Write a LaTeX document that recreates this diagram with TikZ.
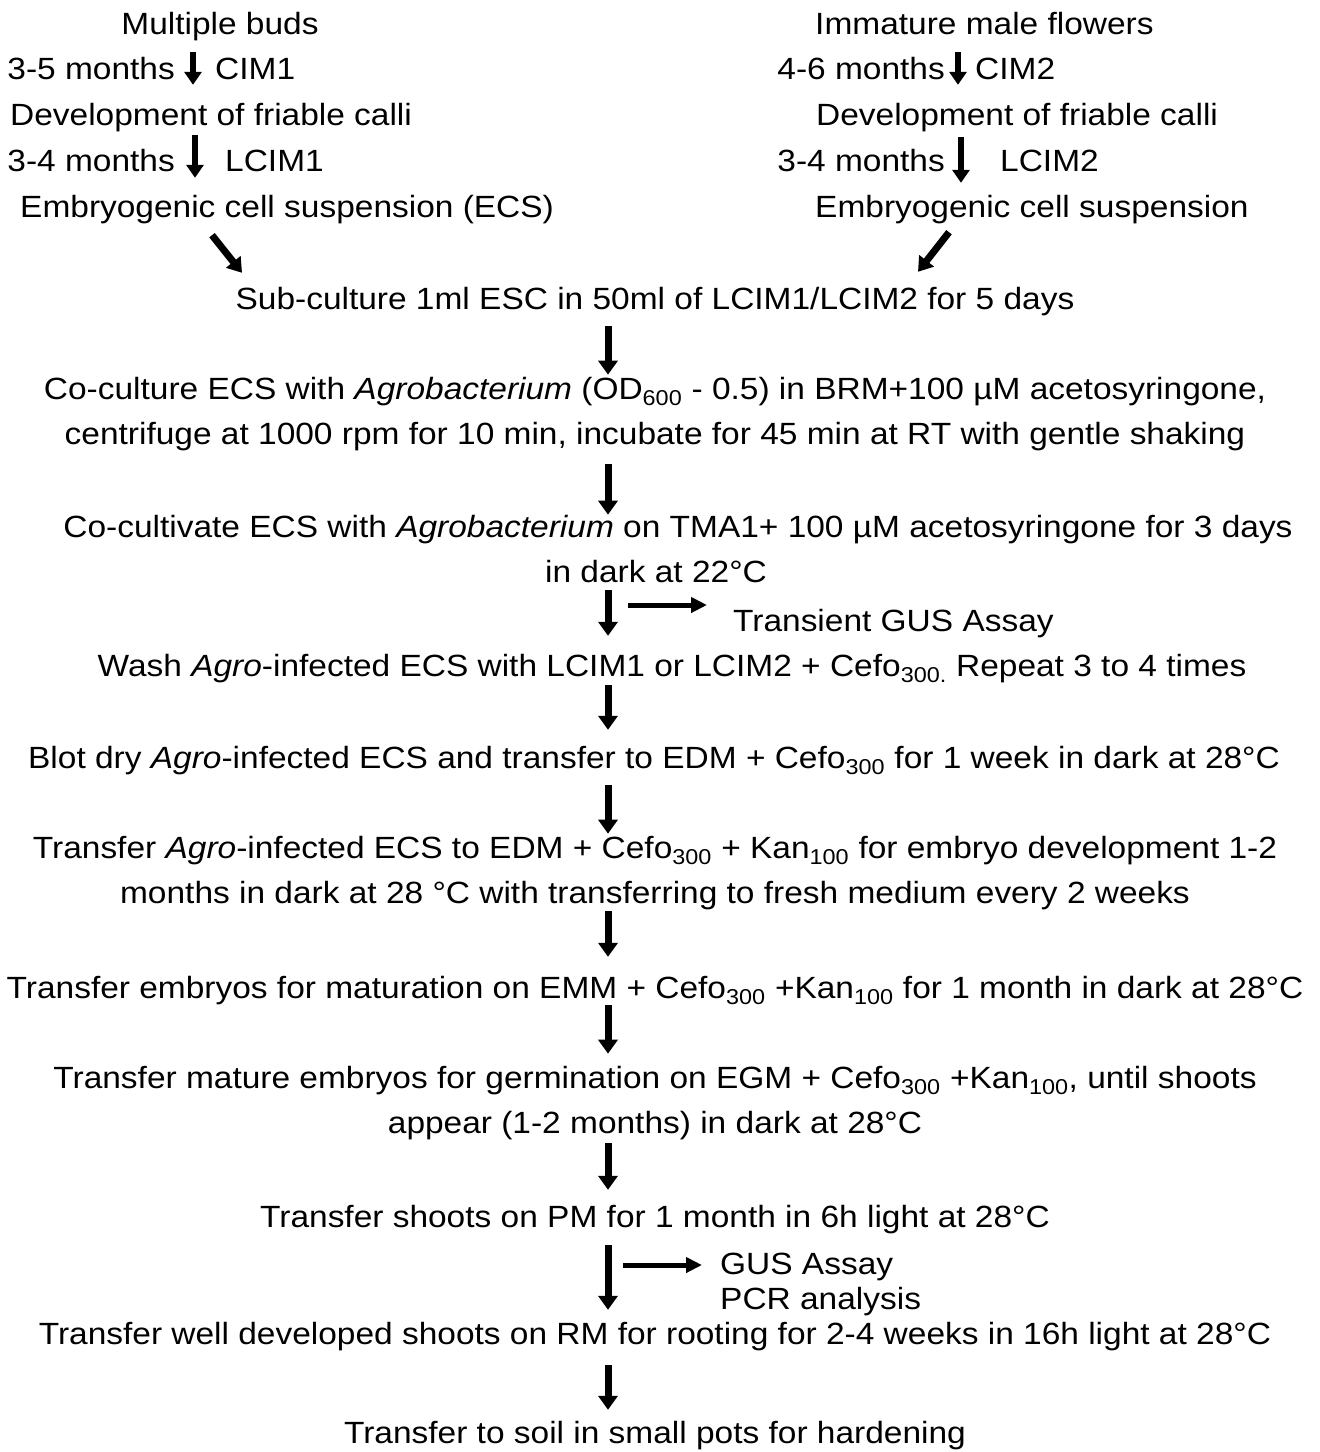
\documentclass[tikz,border=0pt]{standalone}
\usepackage{fontspec}
\setmainfont{Liberation Sans}[FakeStretch=1.09]
\usetikzlibrary{arrows.meta,positioning}
\newcommand{\flowstrut}{\rule[-7pt]{0pt}{36pt}}
\tikzset{
  every picture/.style={font=\fontsize{30.7}{45}\selectfont},
  flow step/.style={inner sep=0pt, align=center,
    execute at begin node=\flowstrut, execute at end node=\flowstrut},
  flow note/.style={flow step, anchor=west},
  flow arrow/.style={-{Triangle[length=14pt,width=19pt]}, line width=7pt},
  start arrow/.style={-{Triangle[length=13pt,width=17pt]}, line width=6pt},
  merge arrow/.style={-{Triangle[length=14pt,width=18pt]}, line width=7pt},
  side arrow/.style={-{Triangle[length=16pt,width=15pt]}, line width=5pt}
}

\begin{document}
\begin{tikzpicture}[x=1pt, y=-1pt]
  \path[use as bounding box, fill=white] (0,0) rectangle (1320,1452);

  % left branch: multiple buds
  \node[flow step] (budsL) at (220,23) {Multiple buds};
  \node[flow note] (calliL) at (10,114) {Development of friable calli};
  \node[flow note] (ecsL) at (20,206) {Embryogenic cell suspension (ECS)};
  \coordinate (a1) at (193,68);
  \coordinate (a2) at (195,160);
  \node[flow step, left=18pt of a1] (timeL1) {3-5 months};
  \node[flow step, right=22pt of a1] (mediumL1) {CIM1};
  \node[flow step, left=20pt of a2] (timeL2) {3-4 months};
  \node[flow step, right=30pt of a2] (mediumL2) {LCIM1};
  \draw[start arrow, shorten <=11pt, shorten >=11pt] (budsL.south -| a1) -- (calliL.north -| a1);
  \draw[start arrow, shorten <=3pt, shorten >=10pt] (calliL.south -| a2) -- (ecsL.north -| a2);

  % right branch: male flowers
  \node[flow note] (flowersR) at (815,23) {Immature male flowers};
  \node[flow note] (calliR) at (816,114) {Development of friable calli};
  \node[flow note] (ecsR) at (815,206) {Embryogenic cell suspension};
  \coordinate (a3) at (958,68);
  \coordinate (a4) at (961,160);
  \node[flow step, left=13pt of a3] (timeR1) {4-6 months};
  \node[flow step, right=17pt of a3] (mediumR1) {CIM2};
  \node[flow step, left=16pt of a4] (timeR2) {3-4 months};
  \node[flow step, right=39pt of a4] (mediumR2) {LCIM2};
  \draw[start arrow, shorten <=11pt, shorten >=11pt] (flowersR.south -| a3) -- (calliR.north -| a3);
  \draw[start arrow, shorten <=5pt, shorten >=5pt] (calliR.south -| a4) -- (ecsR.north -| a4);

  % main chain
  \node[flow step] (sub) at (655,298) {Sub-culture 1ml ESC in 50ml of LCIM1/LCIM2 for 5 days};
  \node[flow step] (cocult) at (655,414) {Co-culture ECS with \textit{Agrobacterium} (OD\textsubscript{600} - 0.5) in BRM+100 µM acetosyringone,\\
    centrifuge at 1000 rpm for 10 min, incubate for 45 min at RT with gentle shaking};
  \node[flow step] (cocultiv) at (656,552) {\hspace*{44pt}Co-cultivate ECS with \textit{Agrobacterium} on TMA1+ 100 µM acetosyringone for 3 days\\
    in dark at 22°C};
  \node[flow note] (tgus) at (733,620) {Transient GUS Assay};
  \node[flow step] (wash) at (672,665) {Wash \textit{Agro}-infected ECS with LCIM1 or LCIM2 + Cefo\textsubscript{300.} Repeat 3 to 4 times};
  \node[flow step] (blot) at (654,757) {Blot dry \textit{Agro}-infected ECS and transfer to EDM + Cefo\textsubscript{300} for 1 week in dark at 28°C};
  \node[flow step] (agro) at (655,873) {Transfer \textit{Agro}-infected ECS to EDM + Cefo\textsubscript{300} + Kan\textsubscript{100} for embryo development 1-2\\
    months in dark at 28 °C with transferring to fresh medium every 2 weeks};
  \node[flow step] (embryos) at (655,987) {Transfer embryos for maturation on EMM + Cefo\textsubscript{300} +Kan\textsubscript{100} for 1 month in dark at 28°C};
  \node[flow step] (mature) at (655,1103) {Transfer mature embryos for germination on EGM + Cefo\textsubscript{300} +Kan\textsubscript{100}, until shoots\\
    appear (1-2 months) in dark at 28°C};
  \node[flow step] (shoots) at (655,1216) {Transfer shoots on PM for 1 month in 6h light at 28°C};
  \node[flow note] (gus) at (720,1263) {GUS Assay};
  \node[flow note] (pcr) at (720,1298) {PCR analysis};
  \node[flow step] (well) at (655,1333) {Transfer well developed shoots on RM for rooting for 2-4 weeks in 16h light at 28°C};
  \node[flow step] (soil) at (655,1432) {Transfer to soil in small pots for hardening};

  % merging arrows
  \draw[merge arrow] ([xshift=192pt,yshift=-11pt]ecsL.south west) -- ([xshift=-413pt,yshift=7pt]sub.north);
  \draw[merge arrow] ([xshift=134pt,yshift=-8pt]ecsR.south west) -- ([xshift=263pt,yshift=8pt]sub.north);

  \coordinate (ax) at (608,0);
  \foreach \from/\to/\s/\e in {sub/cocult/10pt/2pt, cocult/cocultiv/13pt/0pt,
      cocultiv/wash/1pt/11pt, wash/blot/2pt/9pt, blot/agro/10pt/2pt,
      agro/embryos/1pt/12pt, embryos/mature/0pt/12pt, mature/shoots/3pt/8pt,
      shoots/well/11pt/5pt, well/soil/14pt/4pt}
    \draw[flow arrow, shorten <=\s, shorten >=\e] (\from.south -| ax) -- (\to.north -| ax);

  % assays
  \coordinate (t1) at (628,605);
  \draw[side arrow, shorten >=26pt] (t1) -- (t1 -| tgus.west);
  \coordinate (t2) at (623,1265);
  \draw[side arrow, shorten >=18pt] (t2) -- (t2 -| gus.west);
\end{tikzpicture}
\end{document}
